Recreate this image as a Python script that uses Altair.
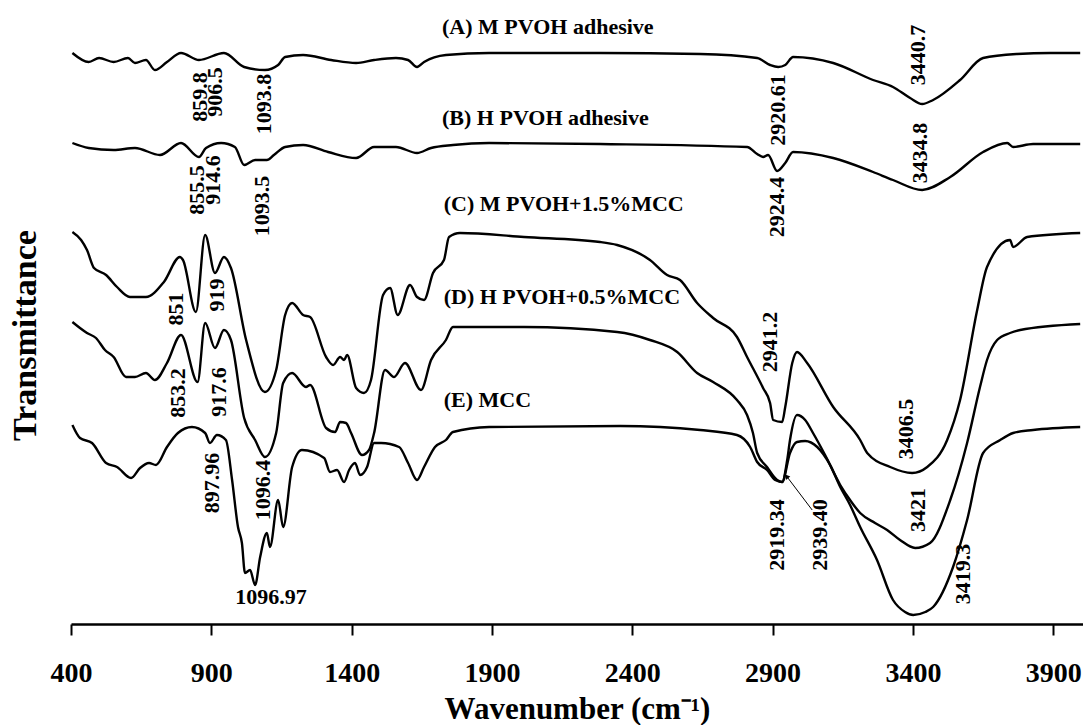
import altair as alt
import pandas as pd

# ---- spectra (wavenumber cm-1, transmittance in arbitrary offset units) ----
A_wn = [405, 463, 500, 552, 603, 628, 667, 699, 742, 792, 856, 945, 1017, 1091, 1138, 1163, 1227, 1327, 1416,
        1480, 1558, 1601, 1633, 1658, 1736, 1890, 2285, 2642, 2845, 2891, 2920, 2945, 2973, 3116, 3258, 3329,
        3390, 3433, 3472, 3568, 3650, 3771, 3889, 3996]
A_t = [571, 562, 566, 562, 566, 561, 564, 554, 562, 571, 564, 571, 557, 554, 559, 567, 569, 564, 561,
       564, 566, 564, 557, 562, 569, 571, 571, 570, 566, 559, 557, 559, 567, 561, 544, 537,
       526, 520, 524, 544, 566, 570, 571, 571]

B_wn = [405, 463, 552, 628, 717, 792, 856, 881, 935, 984, 1017, 1056, 1098, 1123, 1163, 1227, 1316, 1416, 1480,
        1558, 1633, 1683, 1761, 1890, 2285, 2809, 2845, 2866, 2884, 2916, 2945, 2973, 3116, 3258, 3329, 3433,
        3533, 3650, 3736, 3757, 3828, 3996]
B_t = [481, 476, 474, 476, 469, 481, 467, 476, 481, 477, 459, 464, 464, 469, 477, 479, 472, 466, 477,
       477, 471, 476, 479, 481, 480, 477, 470, 467, 469, 453, 461, 472, 466, 452, 444, 434,
       447, 472, 481, 477, 480, 480]

C_wn = [405, 436, 457, 482, 525, 564, 610, 667, 731, 788, 799, 845, 878, 913, 945, 970, 1024, 1091, 1131, 1163,
        1188, 1227, 1252, 1309, 1334, 1359, 1373, 1384, 1416, 1444, 1469, 1512, 1537, 1564, 1608, 1633, 1658,
        1690, 1729, 1747, 1786, 2014, 2285, 2346, 2463, 2524, 2570, 2631, 2688, 2773, 2809, 2866, 2891, 2902,
        2934, 2945, 2970, 2987, 3023, 3116, 3212, 3237, 3319, 3397, 3451, 3522, 3568, 3629, 3664, 3746, 3757,
        3807, 3996]
C_t = [392, 384, 374, 356, 349, 337, 327, 327, 342, 367, 364, 312, 389, 351, 367, 356, 284, 232, 254, 309,
       321, 309, 307, 267, 259, 267, 264, 269, 236, 231, 244, 329, 336, 309, 339, 327, 324,
       351, 364, 387, 391, 387, 382, 379, 364, 349, 344, 321, 306, 287, 267, 236, 221, 204,
       202, 217, 261, 272, 261, 217, 184, 171, 157, 151, 157, 184, 224, 314, 357, 384, 377,
       387, 391]

D_wn = [405, 432, 457, 489, 521, 552, 596, 628, 667, 699, 742, 792, 851, 878, 913, 945, 970, 1017, 1056, 1091,
        1131, 1156, 1188, 1237, 1252, 1309, 1341, 1359, 1380, 1398, 1437, 1462, 1480, 1519, 1551, 1590, 1647,
        1683, 1736, 1761, 2014, 2346, 2463, 2560, 2631, 2688, 2773, 2809, 2830, 2845, 2880, 2916, 2934, 2952,
        2962, 2987, 3016, 3044, 3087, 3141, 3176, 3212, 3265, 3308, 3354, 3408, 3461, 3533, 3593, 3639, 3664,
        3700, 3746, 3782, 3996]
D_t = [302, 296, 291, 286, 274, 267, 247, 247, 251, 244, 261, 289, 242, 301, 276, 294, 284, 206, 184, 167,
       191, 241, 251, 237, 239, 196, 192, 202, 201, 191, 169, 174, 191, 254, 247, 261, 234,
       264, 284, 297, 297, 292, 284, 272, 251, 242, 224, 209, 191, 171, 157, 144, 142, 164,
       184, 209, 204, 191, 169, 139, 124, 111, 101, 94, 84, 76, 81, 124, 181, 237, 264,
       284, 291, 294, 300]

E_wn = [405, 432, 475, 525, 564, 614, 646, 678, 703, 742, 781, 831, 878, 895, 920, 952, 974, 995, 1009, 1020,
        1038, 1056, 1074, 1098, 1109, 1138, 1156, 1188, 1223, 1302, 1323, 1348, 1373, 1391, 1412, 1430, 1455,
        1480, 1505, 1569, 1601, 1633, 1658, 1697, 1736, 1761, 1890, 2357, 2642, 2773, 2820, 2845, 2880, 2909,
        2934, 2962, 2987, 3016, 3059, 3105, 3141, 3176, 3212, 3272, 3329, 3372, 3401, 3444, 3472, 3543, 3593,
        3650, 3711, 3757, 3828, 3996]
E_t = [199, 186, 181, 161, 157, 146, 156, 161, 159, 177, 191, 197, 191, 181, 189, 184, 144, 97, 81, 51,
       54, 39, 67, 91, 77, 124, 97, 157, 174, 166, 152, 154, 142, 154, 161, 149, 157,
       181, 181, 177, 161, 144, 157, 177, 184, 192, 197, 198, 194, 189, 177, 162, 154, 144,
       142, 171, 182, 183, 177, 159, 137, 119, 97, 64, 24, 12, 9, 12, 17, 57, 104,
       171, 184, 191, 194, 197]

series = {"A": (A_wn, A_t), "B": (B_wn, B_t), "C": (C_wn, C_t), "D": (D_wn, D_t), "E": (E_wn, E_t)}

# ---- curve names ----
name_text = ["(A) M PVOH adhesive", "(B) H PVOH adhesive", "(C) M PVOH+1.5%MCC", "(D) H PVOH+0.5%MCC", "(E) MCC"]
name_wn = [1722, 1722, 1728, 1728, 1728]
name_t = [597, 506, 420, 327, 224]

# ---- peak labels (rotated) ----
peak_text = ["859.8", "906.5", "1093.8", "855.5", "914.6", "1093.5", "2920.61", "3440.7", "2924.4", "3434.8",
             "851", "919", "853.2", "917.6", "897.96", "1096.4", "2941.2", "3406.5", "2919.34", "2939.40",
             "3421", "3419.3"]
peak_wn = [860, 913, 1088, 849, 906, 1081, 2920, 3419, 2916, 3426,
           774, 920, 781, 927, 902, 1084, 2891, 3375, 2916, 3069,
           3419, 3579]
peak_t = [527, 532, 520, 434, 444, 418, 514, 569, 417, 471,
          315, 329, 231, 232, 141, 134, 282, 195, 89, 89,
          114, 50]

# horizontal peak label
flat_text = ["1096.97"]
flat_wn = [1113]
flat_t = [27]

# arrow from label 2939.40 to curve D minimum
arrow_wn = [3041]
arrow_t = [114]
arrow_wn2 = [2952]
arrow_t2 = [147]

xticks = [400, 900, 1400, 1900, 2400, 2900, 3400, 3900]

rows = []
for k, (wn, t) in series.items():
    for w, v in zip(wn, t):
        rows.append({"series": k, "wn": w, "T": v})
df = pd.DataFrame(rows)

FONT = "Liberation Serif"
xs = alt.Scale(domain=[400, 4006], nice=False, zero=False)
ys = alt.Scale(domain=[0, 614], nice=False, zero=False)

lines = alt.Chart(df).mark_line(strokeWidth=2.4, color="black", interpolate="monotone").encode(
    x=alt.X("wn:Q", scale=xs,
            axis=alt.Axis(values=xticks, format="d", title="Wavenumber (cm\u207b\u00b9)", grid=False,
                          labelFont=FONT, labelFontWeight="bold", labelFontSize=28, labelColor="black",
                          labelPadding=24, tickSize=11, tickWidth=2, tickColor="black",
                          domainColor="black", domainWidth=2.5, labelFlush=False,
                          titleFont=FONT, titleFontWeight="bold", titleFontSize=31, titleColor="black",
                          titleX=506, titleY=94, titleBaseline="alphabetic", titleAlign="center")),
    y=alt.Y("T:Q", scale=ys,
            axis=alt.Axis(domain=False, ticks=False, labels=False, grid=False, title="Transmittance",
                          titleFont=FONT, titleFontWeight="bold", titleFontSize=34, titleColor="black",
                          titleAngle=270, titleX=-36, titleY=325, titleAlign="center",
                          titleBaseline="alphabetic")),
    detail="series:N",
    order="wn:Q",
)

names_df = pd.DataFrame({"label": name_text, "wn": name_wn, "T": name_t})
names = alt.Chart(names_df).mark_text(font=FONT, fontWeight="bold", fontSize=22, align="left",
                                      baseline="middle", color="black").encode(
    x=alt.X("wn:Q", scale=xs), y=alt.Y("T:Q", scale=ys), text="label:N")

peaks_df = pd.DataFrame({"label": peak_text, "wn": peak_wn, "T": peak_t})
peaks = alt.Chart(peaks_df).mark_text(font=FONT, fontWeight="bold", fontSize=22, align="center",
                                      baseline="middle", angle=270, color="black").encode(
    x=alt.X("wn:Q", scale=xs), y=alt.Y("T:Q", scale=ys), text="label:N")

flat_df = pd.DataFrame({"label": flat_text, "wn": flat_wn, "T": flat_t})
flat = alt.Chart(flat_df).mark_text(font=FONT, fontWeight="bold", fontSize=22, align="center",
                                    baseline="middle", color="black").encode(
    x=alt.X("wn:Q", scale=xs), y=alt.Y("T:Q", scale=ys), text="label:N")

arrow_df = pd.DataFrame({"wn": arrow_wn, "T": arrow_t, "wn2": arrow_wn2, "T2": arrow_t2})
arrow = alt.Chart(arrow_df).mark_rule(strokeWidth=1, color="black").encode(
    x=alt.X("wn:Q", scale=xs), y=alt.Y("T:Q", scale=ys), x2="wn2:Q", y2="T2:Q")
head = alt.Chart(arrow_df).mark_point(shape="triangle", filled=True, size=30, angle=323,
                                      color="black", opacity=1).encode(
    x=alt.X("wn2:Q", scale=xs), y=alt.Y("T2:Q", scale=ys))

chart = alt.layer(lines, names, peaks, flat, arrow, head).properties(
    width=1012, height=614,
    autosize=alt.AutoSizeParams(type="none"),
    padding={"left": 71, "top": 10, "right": 0, "bottom": 101},
    background="white",
).configure_view(stroke=None)

chart.save("out.html", embed_options={"renderer": "svg", "actions": False})
